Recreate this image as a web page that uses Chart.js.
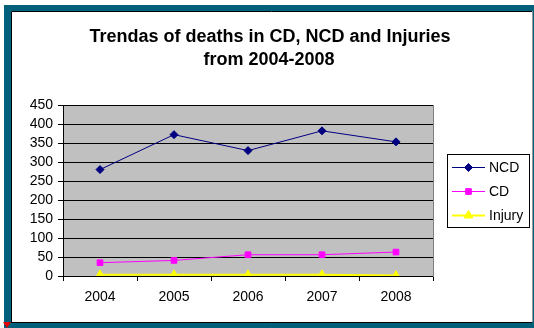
<!DOCTYPE html>
<html>
<head>
<meta charset="utf-8">
<title>Trendas of deaths in CD, NCD and Injuries from 2004-2008</title>
<script src="https://cdn.jsdelivr.net/npm/chart.js@4.4.1/dist/chart.umd.min.js"></script>
<style>
  html, body { margin: 0; padding: 0; background: #ffffff; }
  canvas { display: block; }
</style>
</head>
<body>
<canvas id="chart" width="534" height="328"></canvas>
<script>
// Years on the category axis
const years = ['2004', '2005', '2006', '2007', '2008'];

// Deaths per year by cause group
const ncdDeaths = [280, 372, 330, 382, 353];
const cdDeaths = [35, 41, 56, 56, 63];
const injuryDeaths = [3, 3, 3, 3, 1];

// Value axis range and step
const yMin = 0;
const yMax = 450;
const yStep = 50;

const titleLines = ['Trendas of deaths in CD, NCD and Injuries', 'from 2004-2008'];

const FONT = '"Liberation Sans", Arial, Helvetica, sans-serif';

// Outer frame, title, grey plot area and boxed legend
const framePlugin = {
  id: 'frame',
  beforeDraw(chart) {
    const ctx = chart.ctx;
    const W = chart.width, H = chart.height;
    ctx.save();
    ctx.fillStyle = '#ffffff';
    ctx.fillRect(0, 0, W, H);
    // teal frame
    ctx.fillStyle = '#00607a';
    ctx.fillRect(4, 5, W - 4, H - 5);
    // white sheet with thin border
    ctx.fillStyle = '#ffffff';
    ctx.fillRect(11, 11, W - 13, H - 17);
    ctx.strokeStyle = '#000000';
    ctx.lineWidth = 1;
    ctx.beginPath();
    ctx.moveTo(11.5, H - 5.5);
    ctx.lineTo(11.5, 11.5);
    ctx.lineTo(W - 2, 11.5);
    ctx.moveTo(11, H - 5.5);
    ctx.lineTo(W - 2, H - 5.5);
    ctx.stroke();
    ctx.strokeStyle = '#999999';
    ctx.beginPath();
    ctx.moveTo(W - 1.5, 11);
    ctx.lineTo(W - 1.5, H - 6);
    ctx.stroke();
    // small red marker at the lower-left corner
    ctx.fillStyle = '#e00000';
    ctx.beginPath();
    ctx.moveTo(3, 322);
    ctx.lineTo(11, 322);
    ctx.lineTo(7, 328);
    ctx.closePath();
    ctx.fill();

    // title
    ctx.fillStyle = '#000000';
    ctx.font = 'bold 18px ' + FONT;
    ctx.textAlign = 'center';
    ctx.textBaseline = 'middle';
    ctx.fillText(titleLines[0], 270, 37);
    ctx.fillText(titleLines[1], 269, 60);

    // plot background
    const a = chart.chartArea;
    ctx.fillStyle = '#c0c0c0';
    ctx.fillRect(a.left, a.top, a.right - a.left, a.bottom - a.top);
    ctx.restore();
  },
  beforeDatasetsDraw(chart) {
    const ctx = chart.ctx;
    const a = chart.chartArea;
    ctx.save();
    ctx.strokeStyle = '#808080';
    ctx.lineWidth = 1;
    ctx.beginPath();
    ctx.moveTo(Math.round(a.right) + 0.5, a.top);
    ctx.lineTo(Math.round(a.right) + 0.5, a.bottom + 1);
    ctx.stroke();
    ctx.restore();
  },
  afterDraw(chart) {
    const ctx = chart.ctx;
    const box = { x: 447, y: 154, w: 82, h: 73 };
    ctx.save();
    ctx.fillStyle = '#ffffff';
    ctx.fillRect(box.x, box.y, box.w, box.h);
    ctx.strokeStyle = '#000000';
    ctx.lineWidth = 1;
    ctx.strokeRect(box.x + 0.5, box.y + 0.5, box.w, box.h);
    ctx.font = '14px ' + FONT;
    ctx.textAlign = 'left';
    ctx.textBaseline = 'middle';
    chart.data.datasets.forEach((ds, i) => {
      const y = 167.5 + i * 24;
      ctx.strokeStyle = ds.borderColor;
      ctx.lineWidth = ds.borderWidth;
      ctx.beginPath();
      ctx.moveTo(452, y);
      ctx.lineTo(485, y);
      ctx.stroke();
      ctx.fillStyle = ds.pointBackgroundColor;
      ctx.strokeStyle = ds.pointBorderColor;
      ctx.lineWidth = 1;
      Chart.helpers.drawPoint(ctx, {
        pointStyle: ds.pointStyle,
        radius: ds.pointRadius,
        rotation: 0,
        borderWidth: 1
      }, 468.5, y);
      ctx.fillStyle = '#000000';
      ctx.fillText(ds.label, 489, y + 1);
    });
    ctx.restore();
  }
};

function series(label, data, color, style, radius, width) {
  return {
    label: label,
    data: data,
    borderColor: color,
    backgroundColor: color,
    pointBackgroundColor: color,
    pointBorderColor: color,
    borderWidth: width,
    pointStyle: style,
    pointRadius: radius,
    pointBorderWidth: 1,
    tension: 0,
    fill: false
  };
}

new Chart(document.getElementById('chart'), {
  type: 'line',
  data: {
    labels: years,
    datasets: [
      series('NCD', ncdDeaths, '#000080', 'rectRot', 4, 1),
      series('CD', cdDeaths, '#ff00ff', 'rect', 4, 1),
      series('Injury', injuryDeaths, '#ffff00', 'triangle', 5, 2)
    ]
  },
  plugins: [framePlugin],
  options: {
    responsive: false,
    animation: false,
    devicePixelRatio: 1,
    layout: { padding: { top: 105, left: 0, right: 101, bottom: 0 } },
    plugins: {
      legend: { display: false },
      title: { display: false },
      tooltip: { enabled: false }
    },
    scales: {
      x: {
        type: 'category',
        offset: true,
        grid: {
          offset: true,
          drawOnChartArea: false,
          drawTicks: true,
          tickLength: 5,
          color: '#000000',
          lineWidth: 1
        },
        border: { display: true, color: '#000000', width: 1 },
        ticks: {
          color: '#000000',
          font: { family: FONT, size: 14 },
          padding: 8,
          maxRotation: 0
        },
        afterFit(scale) { scale.height = 52; }
      },
      y: {
        min: yMin,
        max: yMax,
        grid: {
          color: '#000000',
          lineWidth: 1,
          drawTicks: true,
          tickLength: 5
        },
        border: { display: true, color: '#000000', width: 1 },
        ticks: {
          stepSize: yStep,
          autoSkip: false,
          color: '#000000',
          font: { family: FONT, size: 14 },
          padding: 5
        },
        afterFit(scale) { scale.width = 63; }
      }
    }
  }
});
</script>
</body>
</html>
